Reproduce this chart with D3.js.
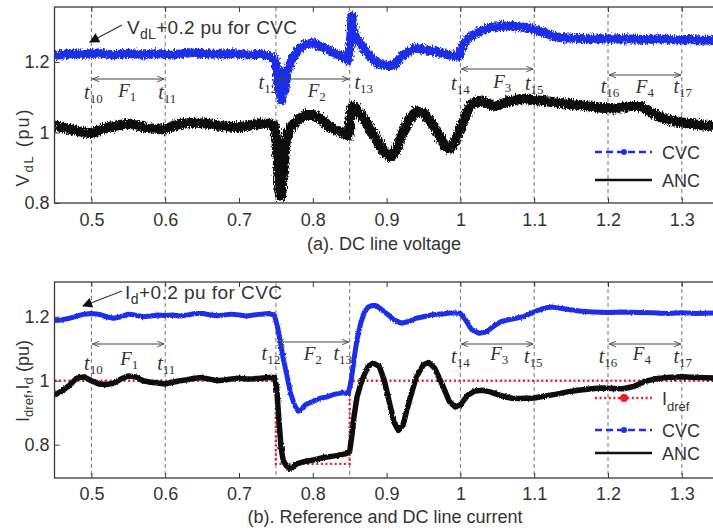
<!DOCTYPE html>
<html>
<head>
<meta charset="utf-8">
<script src="https://cdn.jsdelivr.net/npm/d3@7/dist/d3.min.js"></script>
<style>
  html, body { margin: 0; padding: 0; background: #fff; }
  svg { display: block; }
  text { font-family: "Liberation Sans", Arial, sans-serif; fill: #333; }
  .tl { font-family: "Liberation Serif", "DejaVu Serif", serif; fill: #333; }
</style>
</head>
<body>
<svg id="chart" width="713" height="531"></svg>
<script>
// ---------- data ----------
const xTicks = [0.5, 0.6, 0.7, 0.8, 0.9, 1.0, 1.1, 1.2, 1.3];
const xTickLabels = ["0.5", "0.6", "0.7", "0.8", "0.9", "1", "1.1", "1.2", "1.3"];
const yTicks = [0.8, 1.0, 1.2];
const yTickLabels = ["0.8", "1", "1.2"];

// event instants t10..t17 and fault windows F1..F4
const eventNames = ["10", "11", "12", "13", "14", "15", "16", "17"];
const eventTimes = [0.5, 0.6, 0.75, 0.85, 1.0, 1.1, 1.2, 1.3];
const faultNames = ["1", "2", "3", "4"];
const faultStart = [0.5, 0.75, 1.0, 1.2];
const faultEnd = [0.6, 0.85, 1.1, 1.3];

// (a) DC line voltage, CVC shown as V_dL + 0.2 pu
const tVcvc = [0.45, 0.47, 0.49, 0.51, 0.53, 0.55, 0.57, 0.59, 0.61, 0.63, 0.65, 0.67, 0.69, 0.71, 0.73, 0.745,
  0.75, 0.752, 0.754, 0.756, 0.758, 0.76, 0.762, 0.765, 0.77, 0.78, 0.79, 0.80, 0.81, 0.82, 0.83, 0.84, 0.848,
  0.851, 0.853, 0.855, 0.858, 0.862, 0.87, 0.88, 0.89, 0.90, 0.91, 0.92, 0.93, 0.94, 0.95, 0.96, 0.97, 0.98, 0.99,
  0.998, 1.003, 1.01, 1.02, 1.03, 1.04, 1.05, 1.06, 1.07, 1.08, 1.09, 1.10, 1.11, 1.12, 1.13, 1.14, 1.15, 1.17,
  1.19, 1.21, 1.23, 1.25, 1.27, 1.29, 1.31, 1.33, 1.35];
const vCVC = [1.218, 1.224, 1.222, 1.226, 1.22, 1.225, 1.22, 1.224, 1.22, 1.226, 1.224, 1.222, 1.224, 1.22, 1.222, 1.215,
  1.2, 1.16, 1.12, 1.17, 1.09, 1.14, 1.12, 1.17, 1.2, 1.235, 1.25, 1.255, 1.245, 1.235, 1.225, 1.215, 1.205,
  1.25, 1.33, 1.29, 1.27, 1.26, 1.235, 1.21, 1.195, 1.19, 1.19, 1.215, 1.23, 1.24, 1.235, 1.232, 1.228, 1.222, 1.218,
  1.215, 1.245, 1.265, 1.28, 1.29, 1.298, 1.3, 1.302, 1.303, 1.3, 1.298, 1.292, 1.285, 1.278, 1.272, 1.268, 1.268, 1.266,
  1.265, 1.266, 1.265, 1.264, 1.265, 1.263, 1.264, 1.262, 1.262];

const tVanc = [0.45, 0.46, 0.47, 0.48, 0.49, 0.50, 0.51, 0.52, 0.53, 0.54, 0.55, 0.56, 0.57, 0.58, 0.59, 0.60, 0.61,
  0.62, 0.63, 0.64, 0.65, 0.66, 0.67, 0.68, 0.69, 0.70, 0.71, 0.72, 0.73, 0.74, 0.748, 0.751, 0.753, 0.755, 0.757,
  0.759, 0.761, 0.763, 0.766, 0.77, 0.78, 0.79, 0.80, 0.81, 0.82, 0.83, 0.84, 0.848, 0.851, 0.854, 0.858, 0.865,
  0.875, 0.885, 0.895, 0.905, 0.912, 0.92, 0.93, 0.94, 0.95, 0.96, 0.97, 0.98, 0.986, 0.993, 1.0, 1.008, 1.015,
  1.025, 1.035, 1.045, 1.055, 1.065, 1.075, 1.085, 1.095, 1.11, 1.13, 1.15, 1.17, 1.19, 1.21, 1.23, 1.245, 1.26,
  1.275, 1.29, 1.31, 1.33, 1.35];
const vANC = [1.02, 1.015, 1.01, 1.005, 1.0, 0.998, 1.005, 1.012, 1.018, 1.022, 1.025, 1.02, 1.015, 1.012, 1.01, 1.008, 1.018,
  1.024, 1.026, 1.028, 1.026, 1.024, 1.02, 1.018, 1.016, 1.015, 1.018, 1.022, 1.025, 1.025, 1.02, 0.97, 0.9, 0.83, 0.82,
  0.87, 0.92, 0.97, 1.0, 1.015, 1.035, 1.05, 1.05, 1.04, 1.02, 1.008, 1.0, 0.99, 1.04, 1.075, 1.07, 1.05,
  1.02, 0.985, 0.95, 0.93, 0.945, 0.99, 1.035, 1.06, 1.055, 1.03, 0.995, 0.96, 0.955, 0.975, 1.01, 1.05, 1.08,
  1.09, 1.085, 1.075, 1.08, 1.088, 1.092, 1.095, 1.093, 1.09, 1.085, 1.08, 1.075, 1.07, 1.068, 1.075, 1.075, 1.055,
  1.04, 1.032, 1.025, 1.02, 1.018];

// (b) reference and DC line current, CVC shown as I_d + 0.2 pu
const tIref = [0.45, 0.75, 0.75, 0.85, 0.85, 1.4];
const iRef = [1.0, 1.0, 0.74, 0.74, 1.0, 1.0];

const tIcvc = [0.45, 0.46, 0.47, 0.48, 0.49, 0.50, 0.51, 0.52, 0.53, 0.54, 0.55, 0.56, 0.57, 0.58, 0.59, 0.60, 0.61,
  0.62, 0.63, 0.64, 0.65, 0.66, 0.67, 0.68, 0.69, 0.70, 0.71, 0.72, 0.73, 0.74, 0.748, 0.752, 0.756, 0.76, 0.765,
  0.77, 0.775, 0.78, 0.785, 0.79, 0.80, 0.81, 0.82, 0.83, 0.84, 0.848, 0.852, 0.856, 0.86, 0.865, 0.87, 0.875,
  0.88, 0.885, 0.89, 0.90, 0.91, 0.92, 0.93, 0.94, 0.95, 0.96, 0.97, 0.98, 0.99, 1.0, 1.007, 1.015, 1.025, 1.035,
  1.045, 1.055, 1.065, 1.075, 1.085, 1.095, 1.105, 1.115, 1.125, 1.14, 1.16, 1.18, 1.20, 1.22, 1.24, 1.26, 1.28,
  1.30, 1.32, 1.35];
const iCVC = [1.188, 1.19, 1.195, 1.202, 1.208, 1.21, 1.208, 1.2, 1.195, 1.2, 1.208, 1.205, 1.2, 1.202, 1.205, 1.204, 1.205,
  1.202, 1.205, 1.21, 1.21, 1.206, 1.203, 1.205, 1.208, 1.205, 1.202, 1.205, 1.208, 1.21, 1.205, 1.17, 1.12, 1.07, 1.015,
  0.96, 0.925, 0.905, 0.91, 0.925, 0.935, 0.945, 0.95, 0.958, 0.962, 0.96, 1.0, 1.07, 1.13, 1.18, 1.215, 1.23,
  1.235, 1.235, 1.228, 1.21, 1.19, 1.18, 1.185, 1.195, 1.2, 1.205, 1.208, 1.21, 1.212, 1.21, 1.19, 1.16, 1.148, 1.152,
  1.17, 1.185, 1.19, 1.195, 1.2, 1.21, 1.22, 1.228, 1.23, 1.225, 1.218, 1.215, 1.213, 1.215, 1.213, 1.212, 1.21,
  1.212, 1.21, 1.212];

const tIanc = [0.45, 0.46, 0.47, 0.48, 0.49, 0.50, 0.51, 0.52, 0.53, 0.54, 0.55, 0.56, 0.57, 0.58, 0.59, 0.60, 0.61,
  0.62, 0.63, 0.64, 0.65, 0.66, 0.67, 0.68, 0.69, 0.70, 0.71, 0.72, 0.73, 0.74, 0.748, 0.751, 0.754, 0.757, 0.76,
  0.764, 0.768, 0.772, 0.778, 0.785, 0.80, 0.815, 0.83, 0.845, 0.85, 0.853, 0.856, 0.86, 0.865, 0.87, 0.875, 0.882,
  0.89, 0.897, 0.905, 0.91, 0.916, 0.922, 0.93, 0.94, 0.95, 0.957, 0.965, 0.975, 0.985, 0.993, 1.0, 1.01, 1.02,
  1.03, 1.04, 1.05, 1.06, 1.07, 1.08, 1.09, 1.10, 1.115, 1.13, 1.145, 1.16, 1.175, 1.19, 1.205, 1.22, 1.235, 1.25,
  1.265, 1.28, 1.30, 1.32, 1.35];
const iANC = [0.955, 0.968, 0.985, 1.008, 1.012, 1.0, 0.99, 0.988, 0.992, 1.005, 1.015, 1.012, 1.0, 0.995, 0.993, 0.99, 0.995,
  1.0, 1.003, 1.008, 1.01, 1.005, 1.0, 1.002, 1.005, 1.008, 1.005, 1.006, 1.008, 1.01, 1.01, 0.98, 0.88, 0.79, 0.75,
  0.735, 0.726, 0.728, 0.74, 0.745, 0.752, 0.76, 0.765, 0.772, 0.78, 0.83, 0.89, 0.95, 0.99, 1.02, 1.045, 1.055,
  1.045, 1.0, 0.92, 0.87, 0.845, 0.86, 0.93, 1.01, 1.05, 1.057, 1.04, 0.99, 0.935, 0.918, 0.925, 0.955, 0.968,
  0.97, 0.965, 0.957, 0.95, 0.945, 0.944, 0.945, 0.946, 0.952, 0.958, 0.965, 0.97, 0.974, 0.977, 0.976, 0.975, 0.982, 0.998,
  1.006, 1.01, 1.012, 1.01, 1.008];

// ---------- drawing ----------
const svg = d3.select("#chart");
const BLUE = "#1f2fe8", BLACK = "#111", RED = "#e8202a", AXIS = "#3a3a3a";

const x = d3.scaleLinear().domain([0.45, 1.4]).range([54.5, 755.6]);

const panels = [
  { top: 7, bottom: 203, y: d3.scaleLinear().domain([0.8, 1.2]).range([203, 62]), pad: 10 },
  { top: 282, bottom: 478, y: d3.scaleLinear().domain([0.8, 1.2]).range([444.7, 316.7]), pad: 9 }
];

const defs = svg.append("defs");
panels.forEach((p, i) => {
  defs.append("clipPath").attr("id", "clip" + i)
    .append("rect").attr("x", x.range()[0]).attr("y", p.top)
    .attr("width", x.range()[1] - x.range()[0]).attr("height", p.bottom - p.top);
});
// texture for the measured (noisy) traces
[["jitA", 7, "1.1 0.35"], ["jitB", 2.5, "0.9 0.3"]].forEach(([id, sc, bf]) => {
  const f = defs.append("filter").attr("id", id).attr("filterUnits", "userSpaceOnUse")
    .attr("x", 0).attr("y", 0).attr("width", 800).attr("height", 531);
  f.append("feTurbulence").attr("type", "fractalNoise").attr("baseFrequency", bf)
    .attr("numOctaves", 2).attr("seed", 4).attr("result", "n");
  f.append("feDisplacementMap").attr("in", "SourceGraphic").attr("in2", "n")
    .attr("scale", sc).attr("xChannelSelector", "R").attr("yChannelSelector", "G");
});
// arrow heads
defs.append("marker").attr("id", "headFill").attr("viewBox", "0 0 10 10").attr("refX", 9).attr("refY", 5)
  .attr("markerWidth", 13).attr("markerHeight", 10).attr("markerUnits", "userSpaceOnUse").attr("orient", "auto")
  .append("path").attr("d", "M0,0 L10,5 L0,10 z").attr("fill", "#111");
defs.append("marker").attr("id", "headOpen").attr("viewBox", "0 0 10 10").attr("refX", 10).attr("refY", 5)
  .attr("markerWidth", 7).attr("markerHeight", 7).attr("markerUnits", "userSpaceOnUse").attr("orient", "auto-start-reverse")
  .append("path").attr("d", "M0,1 L10,5 L0,9").attr("fill", "none").attr("stroke", "#444").attr("stroke-width", 1.3);

function drawAxes(p) {
  const g = svg.append("g");
  g.append("g").attr("transform", `translate(0,${p.bottom})`)
    .call(d3.axisBottom(x).tickValues(xTicks).tickFormat((d, i) => xTickLabels[i])
      .tickSizeInner(-5).tickSizeOuter(0).tickPadding(p.pad));
  g.append("g").attr("transform", `translate(0,${p.top})`)
    .call(d3.axisTop(x).tickValues(xTicks).tickFormat("").tickSizeInner(-5).tickSizeOuter(0));
  g.append("g").attr("transform", `translate(${x.range()[0]},0)`)
    .call(d3.axisLeft(p.y).tickValues(yTicks).tickFormat((d, i) => yTickLabels[i])
      .tickSizeInner(-5).tickSizeOuter(0).tickPadding(5));
  g.selectAll(".domain").remove();
  g.selectAll(".tick line").attr("stroke", AXIS).attr("stroke-width", 1);
  g.selectAll(".tick text").attr("font-size", 18).attr("fill", "#333")
    .attr("font-family", '"Liberation Sans", Arial, sans-serif');
  svg.append("rect").attr("x", x.range()[0]).attr("y", p.top)
    .attr("width", x.range()[1] - x.range()[0]).attr("height", p.bottom - p.top)
    .attr("fill", "none").attr("stroke", AXIS).attr("stroke-width", 1.3);
}

function drawEvents(p) {
  svg.append("g").selectAll("line").data(eventTimes).join("line")
    .attr("x1", d => x(d)).attr("x2", d => x(d)).attr("y1", p.top).attr("y2", p.bottom)
    .attr("stroke", "#666").attr("stroke-width", 0.9).attr("stroke-dasharray", "4,3");
}

function series(p, ts, vs, color, width, filt, clip) {
  const line = d3.line().x((d, i) => x(ts[i])).y(d => p.y(d));
  const g = svg.append("g").attr("clip-path", `url(#${clip})`);
  g.append("path").datum(vs).attr("d", line).attr("fill", "none")
    .attr("stroke", color).attr("stroke-width", width).attr("stroke-linejoin", "round")
    .attr("filter", filt ? `url(#${filt})` : null);
  return g;
}

function eventLabels(layout, arrowY) {
  const g = svg.append("g");
  eventNames.forEach((n, i) => {
    const [dx, by] = layout.t[i];
    const t = g.append("text").attr("class", "tl").attr("x", x(eventTimes[i]) + dx).attr("y", by)
      .attr("text-anchor", "middle").attr("font-size", 20);
    t.append("tspan").attr("font-style", "italic").text("t");
    t.append("tspan").attr("font-size", 13).attr("dy", 4).text(n);
  });
  faultNames.forEach((n, i) => {
    const ay = arrowY[i];
    g.append("line").attr("x1", x(faultStart[i]) + 1).attr("x2", x(faultEnd[i]) - 1)
      .attr("y1", ay).attr("y2", ay).attr("stroke", "#444").attr("stroke-width", 1)
      .attr("marker-start", "url(#headOpen)").attr("marker-end", "url(#headOpen)");
    const [dx, by] = layout.f[i];
    const t = g.append("text").attr("class", "tl").attr("x", (x(faultStart[i]) + x(faultEnd[i])) / 2 + dx)
      .attr("y", by).attr("text-anchor", "middle").attr("font-size", 19);
    t.append("tspan").attr("font-style", "italic").text("F");
    t.append("tspan").attr("font-size", 13).attr("dy", 4).text(n);
  });
}

function legendRow(y, color, dash, marker, label, sub) {
  const g = svg.append("g");
  g.append("line").attr("x1", 595).attr("x2", 652).attr("y1", y).attr("y2", y)
    .attr("stroke", color).attr("stroke-width", 2.6).attr("stroke-dasharray", dash);
  if (marker) g.append("circle").attr("cx", 624).attr("cy", y).attr("r", marker).attr("fill", color);
  const t = g.append("text").attr("x", 662).attr("y", y + 6.5).attr("font-size", 18);
  t.append("tspan").text(label);
  if (sub) t.append("tspan").attr("font-size", 13).attr("dy", 6).text(sub);
}

// ----- panel (a) -----
const pa = panels[0];
drawEvents(pa);
series(pa, tVcvc, vCVC, BLUE, 9, "jitA", "clip0");
series(pa, tVanc, vANC, BLACK, 10, "jitA", "clip0");
drawAxes(pa);
eventLabels({
  t: [[2, 99], [2, 99], [-8, 89], [14, 89], [0, 90], [0, 90], [2, 93], [1, 93]],
  f: [[-1, 97], [4, 97], [5, 88], [0, 93]]
}, [79, 79, 69, 75]);
legendRow(152, BLUE, "7,4", 3, "CVC");
legendRow(180, BLACK, null, 0, "ANC");

// annotation
svg.append("line").attr("x1", 122).attr("y1", 25).attr("x2", 90).attr("y2", 42)
  .attr("stroke", "#333").attr("stroke-width", 1.2).attr("marker-end", "url(#headFill)");
{
  const t = svg.append("text").attr("x", 127).attr("y", 34).attr("font-size", 19)
    .attr("textLength", 170).attr("lengthAdjust", "spacing");
  t.append("tspan").text("V");
  t.append("tspan").attr("font-size", 14).attr("dy", 5).text("dL");
  t.append("tspan").attr("dy", -5).text("+0.2 pu for CVC");
}
// y label
{
  const t = svg.append("text").attr("transform", "translate(29,148) rotate(-90)")
    .attr("text-anchor", "middle").attr("font-size", 18).attr("textLength", 77).attr("lengthAdjust", "spacing");
  t.append("tspan").text("V");
  t.append("tspan").attr("font-size", 13).attr("dy", 4).text("dL");
  t.append("tspan").attr("dy", -4).text(" (pu)");
}
svg.append("text").attr("x", 384).attr("y", 250).attr("text-anchor", "middle").attr("font-size", 18)
  .text("(a). DC line voltage");

// ----- panel (b) -----
const pb = panels[1];
drawEvents(pb);
svg.append("g").attr("clip-path", "url(#clip1)").append("path").datum(iRef)
  .attr("d", d3.line().x((d, i) => x(tIref[i])).y(d => pb.y(d)))
  .attr("fill", "none").attr("stroke", RED).attr("stroke-width", 2.4).attr("stroke-dasharray", "2,2.6");
series(pb, tIcvc, iCVC, BLUE, 5, "jitB", "clip1");
series(pb, tIanc, iANC, BLACK, 5.5, "jitB", "clip1");
drawAxes(pb);
eventLabels({
  t: [[2, 370], [1, 370], [-5, 360], [-7, 360], [0, 363], [-1, 363], [0, 363], [1, 363]],
  f: [[1, 365], [0, 360], [2, 360], [-3, 360]]
}, [344, 342, 344, 344]);
legendRow(398, RED, "2,2.6", 4, "I", "dref");
legendRow(430, BLUE, "7,4", 3, "CVC");
legendRow(453, BLACK, null, 0, "ANC");

svg.append("line").attr("x1", 122).attr("y1", 291).attr("x2", 83).attr("y2", 306)
  .attr("stroke", "#333").attr("stroke-width", 1.2).attr("marker-end", "url(#headFill)");
{
  const t = svg.append("text").attr("x", 125).attr("y", 299).attr("font-size", 19)
    .attr("textLength", 157).attr("lengthAdjust", "spacing");
  t.append("tspan").text("I");
  t.append("tspan").attr("font-size", 14).attr("dy", 5).text("d");
  t.append("tspan").attr("dy", -5).text("+0.2 pu for CVC");
}
{
  const t = svg.append("text").attr("transform", "translate(29,381) rotate(-90)")
    .attr("text-anchor", "middle").attr("font-size", 18).attr("textLength", 82).attr("lengthAdjust", "spacing");
  t.append("tspan").text("I");
  t.append("tspan").attr("font-size", 13).attr("dy", 4).text("dref");
  t.append("tspan").attr("dy", -4).text(",I");
  t.append("tspan").attr("font-size", 13).attr("dy", 4).text("d");
  t.append("tspan").attr("dy", -4).text(" (pu)");
}
svg.append("text").attr("x", 385).attr("y", 523).attr("text-anchor", "middle").attr("font-size", 18)
  .text("(b). Reference and DC line current");
</script>
</body>
</html>
